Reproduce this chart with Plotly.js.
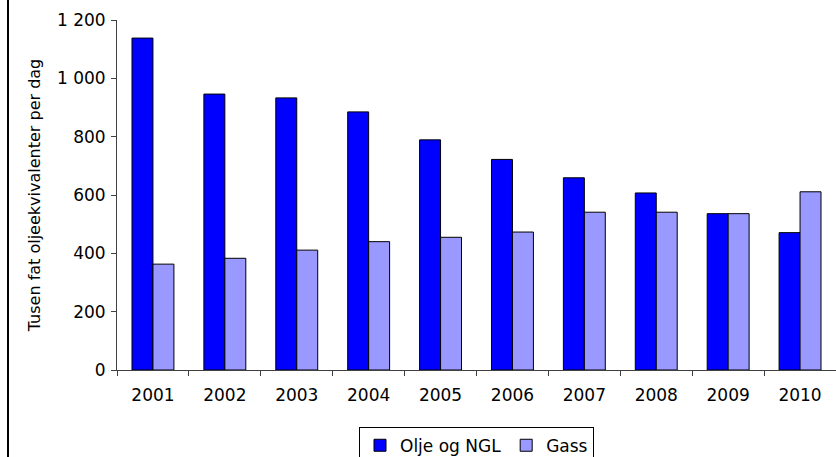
<!DOCTYPE html>
<html>
<head>
<meta charset="utf-8">
<script src="https://cdn.plot.ly/plotly-3.0.1.min.js"></script>
<style>
html,body{margin:0;padding:0;background:#fff;}
#chart{width:836px;height:457px;}
</style>
</head>
<body>
<div id="chart"></div>
<script>
const years = ["2001","2002","2003","2004","2005","2006","2007","2008","2009","2010"];
const oljeOgNGL = [1138, 946, 933, 885, 789, 722, 659, 607, 536, 471];
const gass = [363, 383, 411, 440, 455, 473, 541, 541, 536, 611];
const seriesNames = ["Olje og NGL", "Gass"];
const yTitle = "Tusen fat oljeekvivalenter per dag";

const font = "DejaVu Sans, Verdana, sans-serif";

const traces = [
  {type:"bar", name:seriesNames[0], x:years, y:oljeOgNGL,
   marker:{color:"#0000FF", line:{color:"#000000", width:1}}},
  {type:"bar", name:seriesNames[1], x:years, y:gass,
   marker:{color:"#9999FF", line:{color:"#000000", width:1}}}
];

const layout = {
  width:836, height:457,
  margin:{l:117, r:0, t:20, b:87, autoexpand:false},
  paper_bgcolor:"#ffffff", plot_bgcolor:"#ffffff",
  font:{family:font, size:17, color:"#000000"},
  separators:", ",
  barmode:"group", bargap:0.417, bargroupgap:0,
  showlegend:true,
  legend:{orientation:"h", x:0.5, xanchor:"center", y:-0.162, yanchor:"top",
          bordercolor:"#000000", borderwidth:1, font:{family:font, size:17},
          itemwidth:30, tracegroupgap:0},
  xaxis:{type:"category", showgrid:false, showline:true, linecolor:"#404040", linewidth:1,
         ticks:"outside", ticklen:5, tickcolor:"#404040", tickson:"boundaries",
         ticklabelstandoff:10,
         tickfont:{family:font, size:17}, zeroline:false},
  yaxis:{range:[0,1200], dtick:200, tickformat:",d", showgrid:false, showline:true,
         linecolor:"#404040", linewidth:1, ticks:"outside", ticklen:5, tickcolor:"#404040",
         ticklabelstandoff:2,
         tickfont:{family:font, size:17}, zeroline:false,
         title:{text:yTitle, font:{family:font, size:16}, standoff:12}},
  shapes:[{type:"line", xref:"paper", yref:"paper", x0:-109/719, x1:-109/719, y0:-0.3, y1:1.1,
           line:{color:"#000000", width:2}}]
};

Plotly.newPlot("chart", traces, layout, {staticPlot:true, displayModeBar:false});
</script>
</body>
</html>
